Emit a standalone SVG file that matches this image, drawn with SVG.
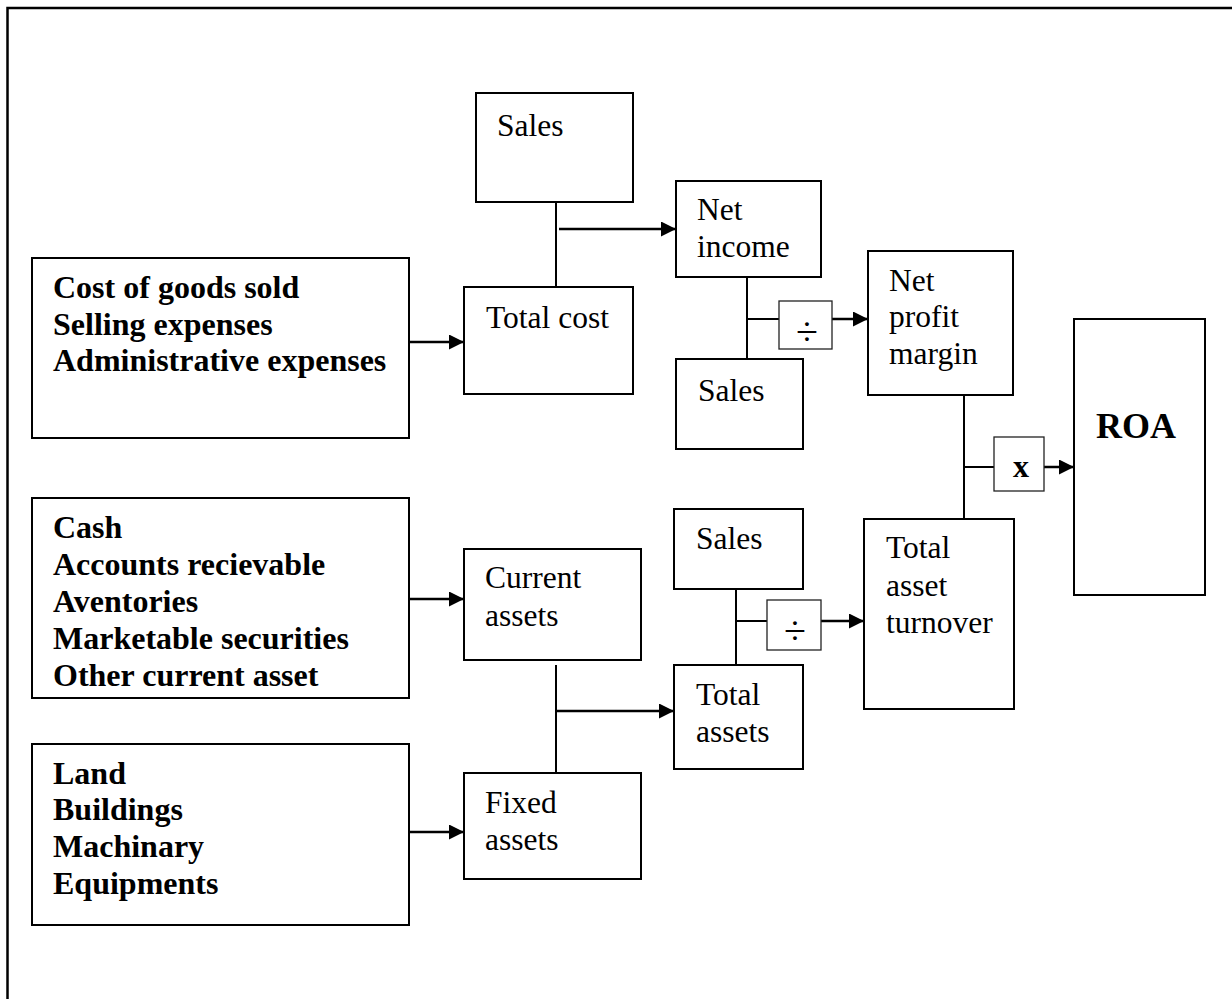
<svg xmlns="http://www.w3.org/2000/svg" width="1232" height="999" viewBox="0 0 1232 999">
<defs>
<style>
.box{fill:#fff;stroke:#000;stroke-width:2}
.op{fill:#fff;stroke:#222;stroke-width:1.3}
.t{font-family:"Liberation Serif","Times New Roman",serif;font-size:31.5px;fill:#000}
.b{font-family:"Liberation Serif","Times New Roman",serif;font-size:32px;font-weight:bold;fill:#000}
.d{font-family:"Liberation Serif","Times New Roman",serif;font-size:40px;fill:#000}
.c{fill:none;stroke:#000;stroke-width:2}
.a{fill:none;stroke:#000;stroke-width:2.5;marker-end:url(#ah)}
</style>
<marker id="ah" markerUnits="userSpaceOnUse" markerWidth="16" markerHeight="16" refX="15" refY="7.5" orient="auto">
<path d="M0,0 L15,7.5 L0,15 z" fill="#000"/>
</marker>
</defs>
<rect width="1232" height="999" fill="#fff"/>
<path d="M7.5,999 V8 H1232" fill="none" stroke="#000" stroke-width="2.5"/>

<g id="connectors">
<path class="a" d="M409,342 H464"/>
<path class="c" d="M556,202 V287"/>
<path class="a" d="M559,229 H676"/>
<path class="c" d="M747,277 V359"/>
<path class="c" d="M747,319 H779"/>
<path class="a" d="M832,319 H868"/>
<path class="c" d="M964,395 V519"/>
<path class="c" d="M964,467 H994"/>
<path class="a" d="M1044,467 H1074"/>
<path class="a" d="M409,599 H464"/>
<path class="a" d="M409,832 H464"/>
<path class="c" d="M556,665 V773"/>
<path class="a" d="M556,711 H674"/>
<path class="c" d="M736,589 V665"/>
<path class="c" d="M736,621 H767"/>
<path class="a" d="M821,621 H864"/>
</g>

<g id="costs">
<rect class="box" x="32" y="258" width="377" height="180"/>
<text class="b" x="53" y="298">Cost of goods sold</text>
<text class="b" x="53" y="334.5">Selling expenses</text>
<text class="b" x="53" y="371">Administrative expenses</text>
</g>

<g id="current-items">
<rect class="box" x="32" y="498" width="377" height="200"/>
<text class="b" x="53" y="538">Cash</text>
<text class="b" x="53" y="575">Accounts recievable</text>
<text class="b" x="53" y="612">Aventories</text>
<text class="b" x="53" y="649">Marketable securities</text>
<text class="b" x="53" y="686">Other current asset</text>
</g>

<g id="fixed-items">
<rect class="box" x="32" y="744" width="377" height="181"/>
<text class="b" x="53" y="784">Land</text>
<text class="b" x="53" y="820">Buildings</text>
<text class="b" x="53" y="857">Machinary</text>
<text class="b" x="53" y="894">Equipments</text>
</g>

<g id="sales-top">
<rect class="box" x="476" y="93" width="157" height="109"/>
<text class="t" x="497" y="136">Sales</text>
</g>

<g id="total-cost">
<rect class="box" x="464" y="287" width="169" height="107"/>
<text class="t" x="486" y="328">Total cost</text>
</g>

<g id="net-income">
<rect class="box" x="676" y="181" width="145" height="96"/>
<text class="t" x="697" y="220">Net</text>
<text class="t" x="697" y="257">income</text>
</g>

<g id="sales-mid">
<rect class="box" x="676" y="359" width="127" height="90"/>
<text class="t" x="698" y="401">Sales</text>
</g>

<g id="div1">
<rect class="op" x="779" y="301" width="53" height="48"/>
<text class="d" x="807" y="345" text-anchor="middle">÷</text>
</g>

<g id="net-profit-margin">
<rect class="box" x="868" y="251" width="145" height="144"/>
<text class="t" x="889" y="291">Net</text>
<text class="t" x="889" y="327">profit</text>
<text class="t" x="889" y="364">margin</text>
</g>

<g id="mult">
<rect class="op" x="994" y="437" width="50" height="54"/>
<text class="b" x="1021" y="477" text-anchor="middle">x</text>
</g>

<g id="roa">
<rect class="box" x="1074" y="319" width="131" height="276"/>
<text class="b" x="1096" y="438" style="font-size:36px">ROA</text>
</g>

<g id="current-assets">
<rect class="box" x="464" y="549" width="177" height="111"/>
<text class="t" x="485" y="588">Current</text>
<text class="t" x="485" y="626">assets</text>
</g>

<g id="fixed-assets">
<rect class="box" x="464" y="773" width="177" height="106"/>
<text class="t" x="485" y="813">Fixed</text>
<text class="t" x="485" y="850">assets</text>
</g>

<g id="sales-low">
<rect class="box" x="674" y="509" width="129" height="80"/>
<text class="t" x="696" y="549">Sales</text>
</g>

<g id="div2">
<rect class="op" x="767" y="600" width="54" height="50"/>
<text class="d" x="795" y="644" text-anchor="middle">÷</text>
</g>

<g id="total-assets">
<rect class="box" x="674" y="665" width="129" height="104"/>
<text class="t" x="696" y="705">Total</text>
<text class="t" x="696" y="742">assets</text>
</g>

<g id="total-asset-turnover">
<rect class="box" x="864" y="519" width="150" height="190"/>
<text class="t" x="886" y="558">Total</text>
<text class="t" x="886" y="596">asset</text>
<text class="t" x="886" y="633">turnover</text>
</g>
</svg>
